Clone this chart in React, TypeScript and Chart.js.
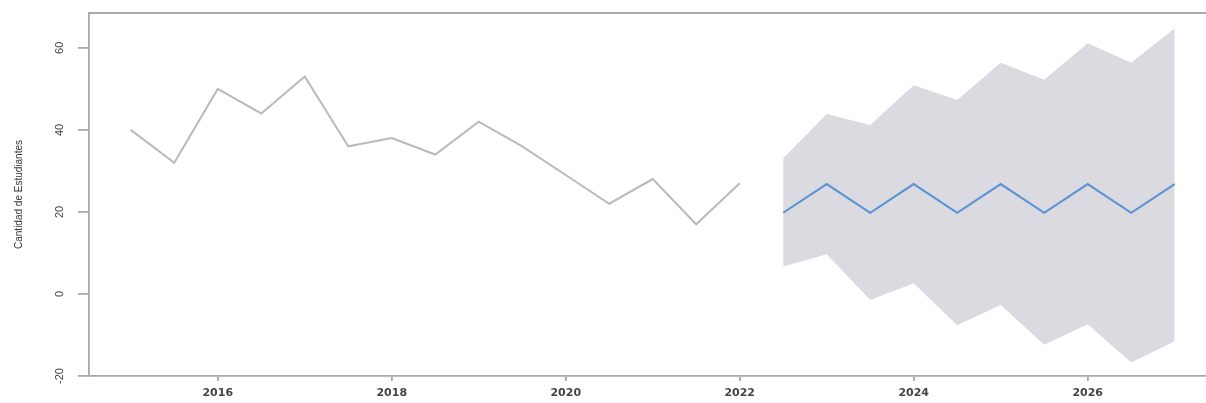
import React, { useEffect, useRef } from "react";
import { Chart, registerables } from "chart.js";

Chart.register(...registerables);

// Historical observations (semi-annual)
const histYears = [2015, 2015.5, 2016, 2016.5, 2017, 2017.5, 2018, 2018.5, 2019, 2019.5, 2020, 2020.5, 2021, 2021.5, 2022];
const histValues = [40, 32, 50, 44, 53, 36, 38, 34, 42, 36, 29, 22, 28, 17, 27];

// Forecast
const fcYears = [2022.5, 2023, 2023.5, 2024, 2024.5, 2025, 2025.5, 2026, 2026.5, 2027];
const fcMean = [19.8, 26.8, 19.8, 26.8, 19.8, 26.8, 19.8, 26.8, 19.8, 26.8];
const fcUpper = [33.1, 43.9, 41.2, 50.9, 47.3, 56.4, 52.2, 61.1, 56.4, 64.8];
const fcLower = [6.7, 9.7, -1.5, 2.6, -7.6, -2.7, -12.4, -7.4, -16.7, -11.5];

const xTicks = [2016, 2018, 2020, 2022, 2024, 2026];
const yTicks = [-20, 0, 20, 40, 60];
const yTitle = "Cantidad de Estudiantes";

const AXIS = "#a9a9a9";

const boxPlugin = {
  id: "topBox",
  afterDraw(chart: any) {
    const { ctx, chartArea } = chart;
    ctx.save();
    ctx.strokeStyle = AXIS;
    ctx.lineWidth = 1.8;
    ctx.beginPath();
    ctx.moveTo(chartArea.left, chartArea.top);
    ctx.lineTo(chartArea.right, chartArea.top);
    ctx.stroke();
    ctx.restore();
  },
};

export default function App() {
  const ref = useRef<HTMLCanvasElement | null>(null);

  useEffect(() => {
    document.body.style.margin = "0";
    const pts = (xs: number[], ys: number[]) => xs.map((x, i) => ({ x, y: ys[i] }));
    const chart = new Chart(ref.current as HTMLCanvasElement, {
      type: "line",
      data: {
        datasets: [
          {
            label: "hist",
            data: pts(histYears, histValues),
            borderColor: "#bababa",
            borderWidth: 2,
            pointRadius: 0,
            fill: false,
            tension: 0,
            order: 0,
          },
          {
            label: "mean",
            data: pts(fcYears, fcMean),
            borderColor: "#5b93d6",
            borderWidth: 2,
            pointRadius: 0,
            fill: false,
            tension: 0,
            order: 1,
          },
          {
            label: "lower",
            data: pts(fcYears, fcLower),
            borderWidth: 0,
            borderColor: "rgba(0,0,0,0)",
            pointRadius: 0,
            fill: false,
            order: 3,
          },
          {
            label: "upper",
            data: pts(fcYears, fcUpper),
            borderWidth: 0,
            borderColor: "rgba(0,0,0,0)",
            backgroundColor: "#dadae0",
            pointRadius: 0,
            fill: "-1",
            order: 2,
          },
        ],
      },
      options: {
        responsive: false,
        animation: false,
        layout: { padding: { top: 13, left: 0, right: 0, bottom: 0 } },
        plugins: {
          legend: { display: false },
          tooltip: { enabled: false },
          filler: { drawTime: "beforeDatasetsDraw" } as any,
        },
        scales: {
          x: {
            type: "linear",
            min: 2014.52,
            max: 2027.36,
            afterBuildTicks: (s: any) => {
              s.ticks = xTicks.map((v) => ({ value: v }));
            },
            afterFit: (s: any) => {
              s.height = 27;
              s.paddingLeft = 0;
              s.paddingRight = 0;
            },
            grid: { drawOnChartArea: false, drawTicks: true, tickLength: 5, color: AXIS, lineWidth: 1.8 },
            border: { display: true, color: AXIS, width: 1.8 },
            ticks: {
              autoSkip: false,
              maxRotation: 0,
              minRotation: 0,
              padding: 6,
              color: "#444",
              font: { family: "'DejaVu Sans', sans-serif", size: 11, weight: "bold" },
              callback: (v: any) => String(v),
            },
          },
          y: {
            type: "linear",
            min: -20,
            max: 68.5,
            afterBuildTicks: (s: any) => {
              s.ticks = yTicks.map((v) => ({ value: v }));
            },
            afterFit: (s: any) => {
              s.width = 89;
              s.paddingTop = 0;
              s.paddingBottom = 0;
            },
            grid: { drawOnChartArea: false, drawTicks: true, tickLength: 11, color: AXIS, lineWidth: 1.8 },
            border: { display: true, color: AXIS, width: 1.8 },
            ticks: {
              autoSkip: false,
              minRotation: 90,
              maxRotation: 90,
              crossAlign: "center",
              padding: 10,
              color: "#444",
              font: { family: "'Liberation Sans', Arial, sans-serif", size: 11 },
              callback: (v: any) => String(v),
            },
            title: {
              display: true,
              text: yTitle,
              color: "#333",
              padding: { top: 13, bottom: 0 },
              font: { family: "'Liberation Sans', Arial, sans-serif", size: 10 },
            },
          },
        },
      },
      plugins: [boxPlugin],
    });
    return () => chart.destroy();
  }, []);

  return (
    <div style={{ position: "fixed", left: 0, top: 0, width: 1206, height: 403, background: "#fff" }}>
      <canvas ref={ref} width={1206} height={403} />
    </div>
  );
}
